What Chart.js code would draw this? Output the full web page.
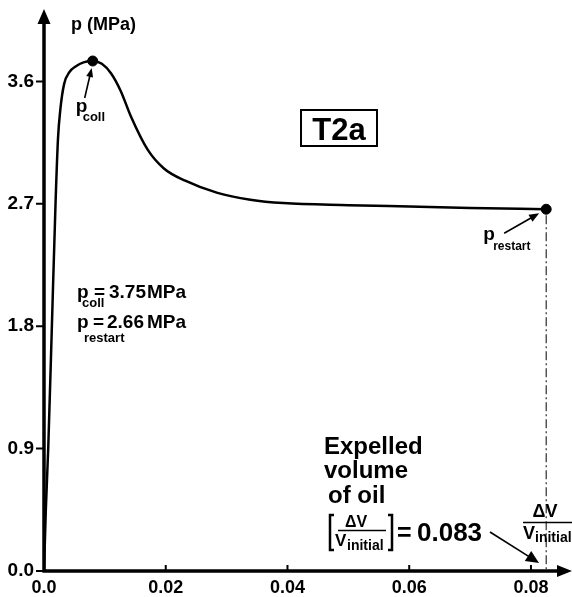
<!DOCTYPE html>
<html>
<head>
<meta charset="utf-8">
<script src="https://cdn.jsdelivr.net/npm/chart.js@4.4.1/dist/chart.umd.min.js"></script>
<style>
  html, body { margin: 0; padding: 0; background: #fff; }
  #wrap { width: 572px; height: 597px; }
</style>
</head>
<body>
<div id="wrap"><canvas id="chart" width="572" height="597"></canvas></div>
<script>
// values
const volumeFraction = [0, 0.0003, 0.0007, 0.0013, 0.0019, 0.0023, 0.0027, 0.0033, 0.0042, 0.0052,
  0.0065, 0.0080, 0.0095, 0.0110, 0.0126, 0.0143, 0.0170, 0.0197, 0.0232, 0.0285,
  0.0339, 0.0393, 0.050, 0.060, 0.070, 0.0825];
const pressure = [0, 0.45, 0.91, 1.81, 2.71, 3.18, 3.40, 3.58, 3.67, 3.71,
  3.74, 3.75, 3.73, 3.66, 3.53, 3.34, 3.10, 2.96, 2.87, 2.78,
  2.73, 2.705, 2.69, 2.68, 2.67, 2.66];

// p_coll and p_restart markers
const markerVolume = [0.0080, 0.0825];
const markerPressure = [3.75, 2.66];

const xTicks = [0, 0.02, 0.04, 0.06, 0.08];
const yTicks = [0, 0.9, 1.8, 2.7, 3.6];

const FONT = '"Liberation Sans", Arial, sans-serif';

function font(size, bold) {
  return (bold ? 'bold ' : '') + size + 'px ' + FONT;
}

function text(ctx, str, x, y, size, bold, align) {
  ctx.font = font(size, bold);
  ctx.textAlign = align || 'left';
  ctx.textBaseline = 'alphabetic';
  ctx.fillText(str, x, y);
  return ctx.measureText(str).width;
}

function arrow(ctx, x1, y1, x2, y2, head, width) {
  const a = Math.atan2(y2 - y1, x2 - x1);
  ctx.beginPath();
  ctx.moveTo(x1, y1);
  ctx.lineTo(x2 - Math.cos(a) * head * 0.8, y2 - Math.sin(a) * head * 0.8);
  ctx.lineWidth = 1.6;
  ctx.stroke();
  ctx.beginPath();
  ctx.moveTo(x2, y2);
  ctx.lineTo(x2 - head * Math.cos(a) + width * Math.sin(a), y2 - head * Math.sin(a) - width * Math.cos(a));
  ctx.lineTo(x2 - head * Math.cos(a) - width * Math.sin(a), y2 - head * Math.sin(a) + width * Math.cos(a));
  ctx.closePath();
  ctx.fill();
}

const decorations = {
  id: 'decorations',
  afterDraw(chart) {
    const ctx = chart.ctx;
    const X = chart.scales.x, Y = chart.scales.y;
    const x0 = X.getPixelForValue(0), y0 = Y.getPixelForValue(0);
    ctx.save();
    ctx.fillStyle = '#000';
    ctx.strokeStyle = '#000';

    // axes with arrow heads
    ctx.lineWidth = 3.5;
    ctx.beginPath();
    ctx.moveTo(x0, y0 + 1.5);
    ctx.lineTo(x0, 22);
    ctx.moveTo(x0 - 1.5, y0);
    ctx.lineTo(560, y0);
    ctx.stroke();
    ctx.beginPath();
    ctx.moveTo(x0, 9); ctx.lineTo(x0 - 6.5, 24); ctx.lineTo(x0 + 6.5, 24); ctx.closePath();
    ctx.moveTo(572, y0); ctx.lineTo(557, y0 - 6); ctx.lineTo(557, y0 + 6); ctx.closePath();
    ctx.fill();

    // tick marks
    ctx.lineWidth = 2;
    ctx.beginPath();
    yTicks.forEach(v => {
      const py = Y.getPixelForValue(v);
      ctx.moveTo(x0 - 8, py); ctx.lineTo(x0, py);
    });
    xTicks.slice(1).forEach(v => {
      const px = X.getPixelForValue(v);
      ctx.moveTo(px, y0); ctx.lineTo(px, y0 - 6);
    });
    ctx.stroke();

    // axis title
    text(ctx, 'p (MPa)', 71, 30, 18, true);

    // p_coll label + arrow
    const cx = X.getPixelForValue(markerVolume[0]), cy = Y.getPixelForValue(markerPressure[0]);
    arrow(ctx, cx - 8, cy + 37, cx - 1, cy + 7, 9, 3.5);
    text(ctx, 'p', cx - 17, cy + 51, 19, true);
    text(ctx, 'coll', cx - 10, cy + 60, 13, true);

    // p_restart label + arrow
    const ex = X.getPixelForValue(markerVolume[1]), ey = Y.getPixelForValue(markerPressure[1]);
    arrow(ctx, ex - 42, ey + 24, ex - 7, ey + 4, 10, 4);
    text(ctx, 'p', ex - 63, ey + 31, 19, true);
    text(ctx, 'restart', ex - 53, ey + 41, 12, true);

    // dash-dot line from p_restart to the x axis
    ctx.lineWidth = 1;
    ctx.setLineDash([9, 3, 2, 3]);
    ctx.beginPath();
    ctx.moveTo(ex, ey + 6);
    ctx.lineTo(ex, y0 - 2);
    ctx.stroke();
    ctx.setLineDash([]);

    // T2a box
    ctx.lineWidth = 2;
    ctx.strokeRect(301, 110, 76, 36);
    text(ctx, 'T2a', 339, 140, 31, true, 'center');

    // values
    text(ctx, 'p', 77, 298, 19, true);
    text(ctx, 'coll', 82, 307, 13, true);
    text(ctx, '=', 94, 298, 19, true);
    text(ctx, '3.75', 109, 298, 19, true);
    text(ctx, 'MPa', 147, 298, 19, true);
    text(ctx, 'p', 77, 328, 19, true);
    text(ctx, 'restart', 84, 342, 13, true);
    text(ctx, '=', 93, 328, 19, true);
    text(ctx, '2.66', 107, 328, 19, true);
    text(ctx, 'MPa', 147, 328, 19, true);

    // expelled volume block
    text(ctx, 'Expelled', 324, 454, 24, true);
    text(ctx, 'volume', 324, 478, 24, true);
    text(ctx, 'of oil', 328, 503, 24, true);

    ctx.lineWidth = 2.5;
    ctx.beginPath();
    ctx.moveTo(334, 515); ctx.lineTo(330, 515); ctx.lineTo(330, 550); ctx.lineTo(334, 550);
    ctx.moveTo(388, 515); ctx.lineTo(392, 515); ctx.lineTo(392, 550); ctx.lineTo(388, 550);
    ctx.stroke();
    text(ctx, '\u0394V', 356, 527, 16, true, 'center');
    ctx.lineWidth = 1.3;
    ctx.beginPath(); ctx.moveTo(338, 530.5); ctx.lineTo(386, 530.5); ctx.stroke();
    text(ctx, 'V', 335, 546, 17, true);
    text(ctx, 'initial', 347, 550, 14, true);
    text(ctx, '=', 397, 541, 25, true);
    text(ctx, '0.083', 417, 541, 26, true);
    arrow(ctx, 490, 532, 539, 563, 13, 6);

    // fraction at the right edge
    text(ctx, '\u0394V', 545, 517, 18, true, 'center');
    ctx.lineWidth = 1.3;
    ctx.beginPath(); ctx.moveTo(523, 522.5); ctx.lineTo(572, 522.5); ctx.stroke();
    text(ctx, 'V', 523, 539, 18, true);
    text(ctx, 'initial', 535, 542, 14, true);

    ctx.restore();
  }
};

new Chart(document.getElementById('chart'), {
  type: 'scatter',
  data: {
    datasets: [
      {
        data: volumeFraction.map((v, i) => ({ x: v, y: pressure[i] })),
        showLine: true,
        borderColor: '#000',
        borderWidth: 2.5,
        pointRadius: 0,
        cubicInterpolationMode: 'monotone'
      },
      {
        data: markerVolume.map((v, i) => ({ x: v, y: markerPressure[i] })),
        pointRadius: 5,
        pointBackgroundColor: '#000',
        pointBorderColor: '#000'
      }
    ]
  },
  options: {
    responsive: false,
    animation: false,
    devicePixelRatio: 1,
    layout: { padding: { top: 27, right: 10.6, left: 0, bottom: 0 } },
    plugins: { legend: { display: false }, tooltip: { enabled: false } },
    scales: {
      x: {
        type: 'linear',
        min: 0,
        max: 0.085,
        afterBuildTicks: s => { s.ticks = xTicks.map(v => ({ value: v })); },
        afterFit: s => { s.height = 26; },
        grid: { display: false, drawTicks: false },
        border: { display: false },
        ticks: {
          color: '#000',
          padding: 6,
          maxRotation: 0,
          autoSkip: false,
          font: { family: FONT, size: 18, weight: 'bold' },
          callback: v => v === 0 ? '0.0' : v.toFixed(2)
        }
      },
      y: {
        min: 0,
        max: 4.0,
        afterBuildTicks: s => { s.ticks = yTicks.map(v => ({ value: v })); },
        afterFit: s => { s.width = 44; },
        grid: { display: false, drawTicks: false },
        border: { display: false },
        ticks: {
          color: '#000',
          padding: 10,
          font: { family: FONT, size: 19, weight: 'bold' },
          callback: v => v.toFixed(1)
        }
      }
    }
  },
  plugins: [decorations]
});
</script>
</body>
</html>
